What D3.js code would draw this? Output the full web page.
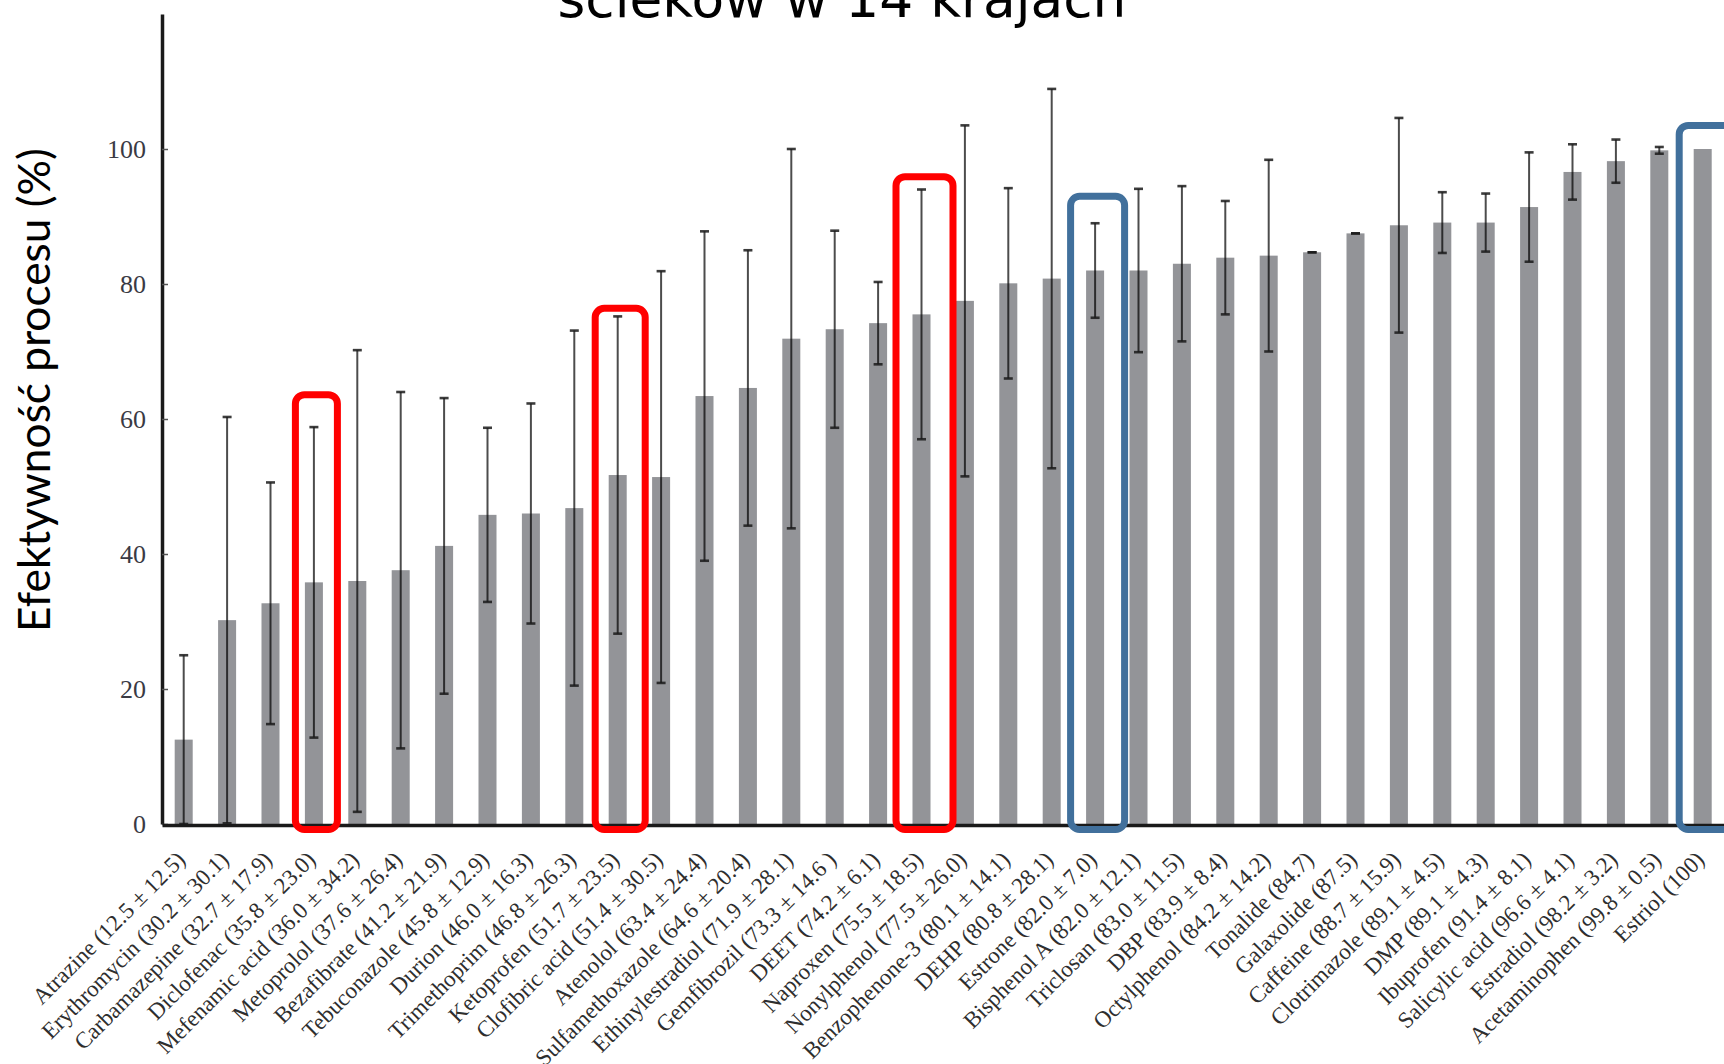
<!DOCTYPE html>
<html>
<head>
<meta charset="utf-8">
<script src="https://cdn.jsdelivr.net/npm/d3@7"></script>
<style>
  html, body { margin: 0; padding: 0; background: #fff; }
  svg { display: block; }
</style>
</head>
<body>
<svg id="chart" width="1724" height="1064"></svg>
<script>
// ---------- data ----------
const categories = ["Atrazine","Erythromycin","Carbamazepine","Diclofenac","Mefenamic acid","Metoprolol",
  "Bezafibrate","Tebuconazole","Durion","Trimethoprim","Ketoprofen","Clofibric acid","Atenolol",
  "Sulfamethoxazole","Ethinylestradiol","Gemfibrozil","DEET","Naproxen","Nonylphenol","Benzophenone-3",
  "DEHP","Estrone","Bisphenol A","Triclosan","DBP","Octylphenol","Tonalide","Galaxolide","Caffeine",
  "Clotrimazole","DMP","Ibuprofen","Salicylic acid","Estradiol","Acetaminophen","Estriol"];
const means = [12.5,30.2,32.7,35.8,36.0,37.6,41.2,45.8,46.0,46.8,51.7,51.4,63.4,64.6,71.9,73.3,74.2,75.5,
  77.5,80.1,80.8,82.0,82.0,83.0,83.9,84.2,84.7,87.5,88.7,89.1,89.1,91.4,96.6,98.2,99.8,100];
const sds = [12.5,30.1,17.9,23.0,34.2,26.4,21.9,12.9,16.3,26.3,23.5,30.5,24.4,20.4,28.1,14.6,6.1,18.5,
  26.0,14.1,28.1,7.0,12.1,11.5,8.4,14.2,0,0,15.9,4.5,4.3,8.1,4.1,3.2,0.5,null];
const tickLabels = ["Atrazine (12.5 ± 12.5)","Erythromycin (30.2 ± 30.1)","Carbamazepine (32.7 ± 17.9)",
  "Diclofenac (35.8 ± 23.0)","Mefenamic acid (36.0 ± 34.2)","Metoprolol (37.6 ± 26.4)",
  "Bezafibrate (41.2 ± 21.9)","Tebuconazole (45.8 ± 12.9)","Durion (46.0 ± 16.3)",
  "Trimethoprim (46.8 ± 26.3)","Ketoprofen (51.7 ± 23.5)","Clofibric acid (51.4 ± 30.5)",
  "Atenolol (63.4 ± 24.4)","Sulfamethoxazole (64.6 ± 20.4)","Ethinylestradiol (71.9 ± 28.1)",
  "Gemfibrozil (73.3 ± 14.6 )","DEET (74.2 ± 6.1)","Naproxen (75.5 ± 18.5)","Nonylphenol (77.5 ± 26.0)",
  "Benzophenone-3 (80.1 ± 14.1)","DEHP (80.8 ± 28.1)","Estrone (82.0 ± 7.0)","Bisphenol A (82.0 ± 12.1)",
  "Triclosan (83.0 ± 11.5)","DBP (83.9 ± 8.4)","Octylphenol (84.2 ± 14.2)","Tonalide (84.7)",
  "Galaxolide (87.5)","Caffeine (88.7 ± 15.9)","Clotrimazole (89.1 ± 4.5)","DMP (89.1 ± 4.3)",
  "Ibuprofen (91.4 ± 8.1)","Salicylic acid (96.6 ± 4.1)","Estradiol (98.2 ± 3.2)",
  "Acetaminophen (99.8 ± 0.5)","Estriol (100)"];
const yTicks = [0, 20, 40, 60, 80, 100];
const titleText = "ścieków w 14 krajach";
const yTitleText = "Efektywność procesu (%)";
// highlighted categories: frame colour group and the value where the frame top sits
const highlightCats = ["Diclofenac","Ketoprofen","Naproxen","Estrone","Estriol"];
const highlightGroup = ["red","red","red","blue","blue"];
const highlightTop = [63.6, 76.4, 95.9, 93.0, 103.5];

// ---------- layout / styles ----------
const svg = d3.select("#chart");
const axisX = 162, baseY = 824, topY = 14;
const x = d3.scaleBand().domain(categories).range([axisX, axisX + 36 * 43.4])
  .paddingInner(0.585).paddingOuter(0.2925);
const y = d3.scaleLinear().domain([0, 120]).range([baseY, topY]);
const frameColor = { red: "#ff0000", blue: "#41709c" };
const frameSide = [[-22, 27], [-26, 31], [-29, 35], [-28, 33], [-27, 60]];

const rows = categories.map((c, i) => ({ c, m: means[i], sd: sds[i], label: tickLabels[i] }));

// bars
svg.append("g").selectAll("rect").data(rows).join("rect")
  .attr("x", d => x(d.c)).attr("width", x.bandwidth())
  .attr("y", d => y(d.m)).attr("height", d => y(0) - y(d.m))
  .attr("fill", "#939498");

// error bars
const eg = svg.append("g");
rows.filter(d => d.sd !== null).forEach(d => {
  const cx = x(d.c) + x.bandwidth() / 2;
  const lo = d.m - d.sd, hi = d.m + d.sd;
  if (d.sd > 0) {
    eg.append("line").attr("x1", cx).attr("x2", cx).attr("y1", y(lo)).attr("y2", y(hi))
      .attr("stroke", "#000").attr("stroke-opacity", 0.7).attr("stroke-width", 2);
  }
  [lo, hi].forEach(v => {
    eg.append("line").attr("x1", cx - 4.5).attr("x2", cx + 4.5).attr("y1", y(v)).attr("y2", y(v))
      .attr("stroke", "#1a1a1a").attr("stroke-opacity", 0.85).attr("stroke-width", 2.6);
  });
});

// y axis
const yAxis = d3.axisLeft(y).tickValues(yTicks).tickSizeInner(-6).tickSizeOuter(0).tickPadding(16);
const yg = svg.append("g").attr("transform", `translate(${axisX},0)`).call(yAxis);
yg.select(".domain").attr("stroke", "#1a1a1a").attr("stroke-width", 3.5);
yg.selectAll(".tick line").attr("stroke", "#555").attr("stroke-width", 1.5);
yg.selectAll(".tick text").attr("font-family", "'Liberation Serif', 'Times New Roman', serif")
  .attr("font-size", 26).attr("fill", "#3a3a44").attr("dy", "0.34em");

// x axis
const xAxis = d3.axisBottom(x).tickSize(0).tickFormat((d, i) => tickLabels[i]);
const xg = svg.append("g").attr("transform", `translate(0,${baseY + 1})`).call(xAxis);
xg.select(".domain").attr("stroke", "#1a1a1a").attr("stroke-width", 3.5);
xg.selectAll(".tick text")
  .attr("font-family", "'Liberation Serif', 'Times New Roman', serif")
  .attr("font-size", 23).attr("fill", "#2e2e2e")
  .attr("text-anchor", "end").attr("x", 0).attr("y", 0).attr("dy", 0)
  .attr("transform", "translate(3,36) rotate(-45)");

// highlight frames
const hg = svg.append("g");
highlightCats.forEach((c, i) => {
  const cx = x(c) + x.bandwidth() / 2;
  const sw = 7;
  const x0 = cx + frameSide[i][0] + sw / 2, x1 = cx + frameSide[i][1] - sw / 2;
  const y0 = y(highlightTop[i]), y1 = baseY + 9 - sw / 2;
  hg.append("rect").attr("x", x0).attr("y", y0).attr("width", x1 - x0).attr("height", y1 - y0)
    .attr("rx", 9).attr("ry", 9).attr("fill", "none")
    .attr("stroke", frameColor[highlightGroup[i]]).attr("stroke-width", sw);
});

// titles
function fit(sel, target) {
  const fs = +sel.attr("font-size");
  const w = sel.node().getComputedTextLength();
  sel.attr("font-size", fs * target / w);
}
const t = svg.append("text").attr("x", 842).attr("y", 17).attr("text-anchor", "middle")
  .attr("font-family", "'DejaVu Sans', sans-serif").attr("font-size", 53).attr("fill", "#000")
  .text(titleText);
fit(t, 569);

const yt = svg.append("text").attr("transform", "translate(50,390) rotate(-90)")
  .attr("text-anchor", "middle").attr("font-family", "Lato, 'Open Sans', sans-serif")
  .attr("font-size", 38).attr("fill", "#000").text(yTitleText);
fit(yt, 484);
</script>
</body>
</html>
